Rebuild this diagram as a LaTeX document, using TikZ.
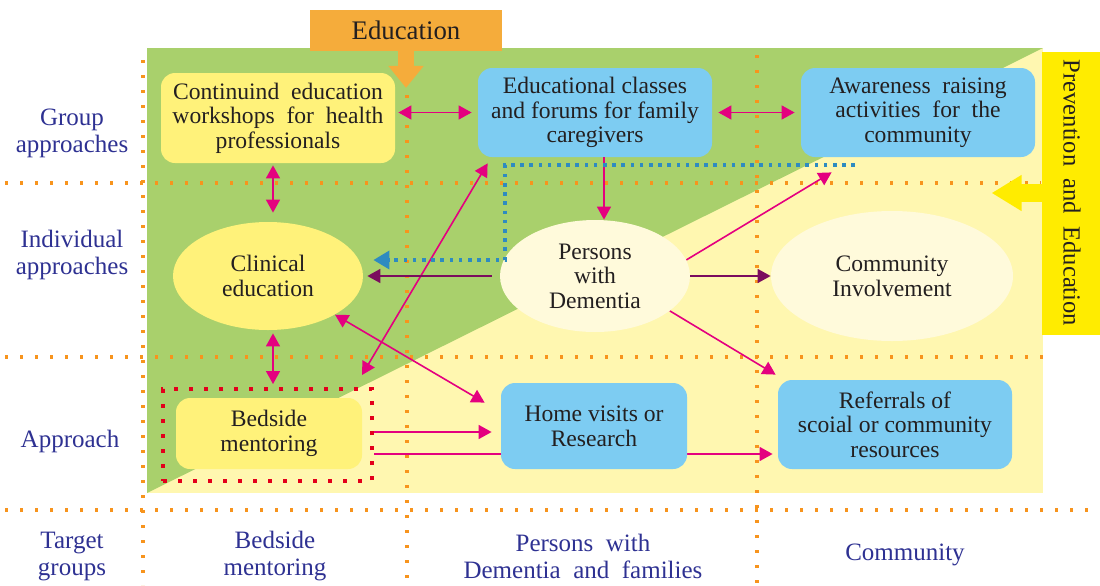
\documentclass[tikz,border=0pt]{standalone}
\usepackage{fontspec}
\setmainfont{Liberation Serif}
\usetikzlibrary{shapes,arrows.meta,positioning,calc,backgrounds}

\definecolor{leafgreen}{HTML}{A9D06C}
\definecolor{paleyellow}{HTML}{FFF7B0}
\definecolor{boxyellow}{HTML}{FFF27A}
\definecolor{boxblue}{HTML}{7DCCF2}
\definecolor{cream}{HTML}{FFFADB}
\definecolor{brightyellow}{HTML}{FFEC00}
\definecolor{edorange}{HTML}{F5AC3B}
\definecolor{dotorange}{HTML}{F7941D}
\definecolor{linkpink}{HTML}{E4007F}
\definecolor{linkpurple}{HTML}{7B0C5E}
\definecolor{dotblue}{HTML}{2E8BC0}
\definecolor{dotred}{HTML}{E3001B}
\definecolor{labelnavy}{HTML}{2E3192}
\definecolor{inkgray}{HTML}{231F20}

\newcommand{\boxfont}{\fontsize{11.8}{12.3}\selectfont}
\newcommand{\sidefont}{\fontsize{12.5}{13.5}\selectfont}

\begin{document}
\begin{tikzpicture}[
    x=0.5pt, y=-0.5pt,
    ybox/.style={rectangle, rounded corners=7pt, fill=boxyellow, text=inkgray,
                 align=center, inner sep=0pt, font=\boxfont},
    bbox/.style={rectangle, rounded corners=7pt, fill=boxblue, text=inkgray,
                 align=center, inner sep=0pt, font=\boxfont},
    yoval/.style={ellipse, fill=boxyellow, text=inkgray, align=center,
                  inner sep=0pt, font=\boxfont},
    coval/.style={ellipse, fill=cream, text=inkgray, align=center,
                  inner sep=0pt, font=\boxfont},
    side/.style={text=labelnavy, align=center, font=\sidefont},
    griddot/.style={dotorange, line width=2pt, dash pattern=on 1.7pt off 5.8pt},
    parrow/.style={-{Triangle[length=6.5pt,width=7pt]}, linkpink, line width=0.8pt},
    pboth/.style={{Triangle[length=6.5pt,width=7pt]}-{Triangle[length=6.5pt,width=7pt]},
                  linkpink, line width=0.8pt},
    uarrow/.style={-{Triangle[length=6.5pt,width=7pt]}, linkpurple, line width=0.8pt},
    bluearrow/.style={-{Triangle[length=8pt,width=9pt]}, dotblue, line width=1.8pt,
                      dash pattern=on 1.8pt off 2.8pt},
    edarrow/.style={-{Triangle[length=11pt,width=17pt]}, edorange, line width=8pt},
    prevarrow/.style={-{Triangle[length=15pt,width=17pt]}, brightyellow, line width=9pt}
]
\useasboundingbox (0,0) rectangle (1100,585);

% Background areas
\begin{pgfonlayer}{background}
\fill[paleyellow] (147,48) rectangle (1043,493);
\fill[leafgreen] (147,48) -- (1043,48) -- (147,493) -- cycle;
\end{pgfonlayer}

% Grid of rows and columns
\draw[griddot] (5,183) -- (1041,183);
\draw[griddot] (5,357) -- (1053,357);
\draw[griddot] (5,510) -- (1100,510);
\draw[griddot] (143,60) -- (143,585);
\draw[griddot] (407,95) -- (407,585);
\draw[griddot] (757,55) -- (757,585);

% Headings
\node[rectangle, fill=edorange, text=inkgray, minimum width=96pt, minimum height=20.5pt,
      font=\fontsize{13.4}{15}\selectfont] (educhead) at (406,30) {Education};
\draw[edarrow] (educhead.south) -- ++(0,37);

\node[rectangle, fill=brightyellow, text=inkgray, rotate=-90, minimum width=141.5pt,
      minimum height=30pt, font=\fontsize{12.3}{14}\selectfont] (prev) at (1072,193)
      {Prevention\ \ and\ \ Education};
\draw[prevarrow] (prev.south) -- ++(-50,0);

% Row labels
\node[side] (grouplbl) at (72,133) {Group\\approaches};
\node[side] (indivlbl) at (72,255) {Individual\\approaches};
\node[side] (apprlbl) at (70,441) {Approach};
\node[side] (targetlbl) at (72,557) {Target\\groups};

% Column labels
\node[side] (bedlbl) at (275,556) {Bedside\\mentoring};
\node[side] (pwdlbl) at (583,556) {Persons\ \ with\\Dementia\ \ and\ \ families};
\node[side] (commlbl) at (905,555) {Community};

% Group approaches
\node[ybox, minimum width=117pt, minimum height=45pt] (cont) at (278,118)
    {Continuind\ \ education\\workshops\ \ for\ \ health\\professionals};
\node[bbox, minimum width=117pt, minimum height=44.5pt] (educ) at (595,112.5)
    {Educational classes\\and forums for family\\caregivers};
\node[bbox, minimum width=117pt, minimum height=44.5pt] (aware) at (918,112.5)
    {Awareness\ \ raising\\activities\ \ for\ \ the\\community};

% Individual approaches
\node[yoval, minimum width=95pt, minimum height=54pt] (clin) at (268,276)
    {Clinical\\education};
\node[coval, minimum width=95pt, minimum height=56pt] (pwd) at (595,276)
    {Persons\\with\\Dementia};
\node[coval, minimum width=121pt, minimum height=65pt] (comm) at (892,276)
    {Community\\Involvement};

% Approach
\node[ybox, minimum width=93pt, minimum height=35.5pt] (bed) at (269,433.5)
    {Bedside\\mentoring};
\node[rectangle, draw=dotred, line width=2pt, dash pattern=on 2pt off 5.5pt,
      minimum width=104.5pt, minimum height=46pt] (bedframe) at (267.5,435) {};
\node[bbox, minimum width=93pt, minimum height=43pt] (home) at (594,426)
    {Home visits or\\Research};
\node[bbox, minimum width=117pt, minimum height=44.5pt] (refer) at (895,424.5)
    {Referrals of\\scoial or community\\resources};

% Links
\draw[pboth, shorten <=1.5pt, shorten >=3pt] (cont.east |- educ.west) -- (educ.west);
\draw[pboth, shorten <=3pt, shorten >=3pt] (educ.east) -- (aware.west);
\draw[pboth, shorten <=1pt, shorten >=4.5pt] ([xshift=-2.5pt]cont.south) -- ([xshift=2.5pt]clin.north);
\draw[pboth, shorten <=1.5pt, shorten >=1.5pt] ([xshift=2.5pt]clin.south) -- ([xshift=2.75pt]bedframe.north);
\draw[parrow] ([xshift=4.5pt]educ.south) -- ([xshift=4.5pt]pwd.north);
\draw[pboth] ([xshift=-6pt,yshift=6pt]bedframe.north east) -- ([xshift=5pt,yshift=-3pt]educ.south west);
\draw[pboth] (clin.-30) -- ([xshift=-8pt,yshift=-10pt]home.north west);
\draw[parrow] (pwd.10) -- ([xshift=15.5pt,yshift=-7.5pt]aware.south west);
\draw[parrow] (pwd.-25) -- ([xshift=-1pt,yshift=2.5pt]refer.north west);
\draw[uarrow, shorten <=4pt, shorten >=2pt] (pwd.west) -- (clin.east);
\draw[uarrow] (pwd.east) -- (comm.west);
\draw[parrow, shorten >=4.5pt] ([yshift=1.5pt]bedframe.east) -- ([yshift=1.5pt]bedframe.east -| home.west);
\begin{pgfonlayer}{background}
\draw[parrow, shorten >=2.5pt] ([yshift=-9.5pt]bedframe.east) -- ([yshift=-9.5pt]bedframe.east -| refer.west);
\end{pgfonlayer}

% Dotted feedback to clinical education
\coordinate (bluestart) at (855,165);
\coordinate (bluecorner) at (505,165);
\draw[bluearrow] (bluestart) -- (bluecorner) |- ([xshift=5pt,yshift=8pt]clin.east);

\end{tikzpicture}
\end{document}
